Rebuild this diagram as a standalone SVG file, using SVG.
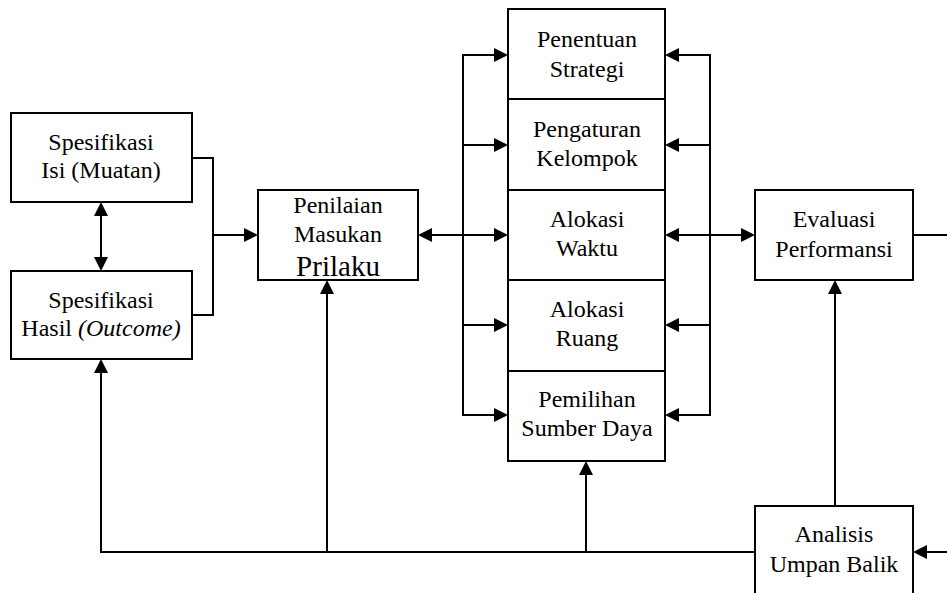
<svg xmlns="http://www.w3.org/2000/svg" width="947" height="593" viewBox="0 0 947 593">
  <style>
    .box { fill: #fff; stroke: #000; stroke-width: 2; }
    .ln { fill: none; stroke: #000; stroke-width: 2; }
  </style>
  <defs>
    <!-- arrowhead with its tip at the origin, pointing along +x -->
    <path id="ah" d="M0,0 L-14,-7 L-14,7 Z" fill="#000"/>
  </defs>
  <rect width="947" height="593" fill="#fff"/>

  <g id="connectors">
    <!-- bracket merging the two specification boxes -->
    <polyline class="ln" points="192,158 213,158 213,315 192,315"/>
    <line class="ln" x1="213" y1="235" x2="250" y2="235"/>
    <use href="#ah" transform="translate(258,235)"/>
    <line class="ln" x1="101" y1="210" x2="101" y2="263"/>
    <use href="#ah" transform="translate(101,202) rotate(-90)"/>
    <use href="#ah" transform="translate(101,271) rotate(90)"/>
    <!-- assessment to stack -->
    <line class="ln" x1="426" y1="235" x2="500" y2="235"/>
    <use href="#ah" transform="translate(418,235) rotate(180)"/>
    <use href="#ah" transform="translate(508,235)"/>
    <!-- left bus -->
    <polyline class="ln" points="500,55 463,55 463,415 500,415"/>
    <line class="ln" x1="463" y1="145" x2="500" y2="145"/>
    <line class="ln" x1="463" y1="325" x2="500" y2="325"/>
    <use href="#ah" transform="translate(508,55)"/>
    <use href="#ah" transform="translate(508,145)"/>
    <use href="#ah" transform="translate(508,325)"/>
    <use href="#ah" transform="translate(508,415)"/>
    <!-- right bus -->
    <polyline class="ln" points="673,55 710,55 710,415 673,415"/>
    <line class="ln" x1="710" y1="145" x2="673" y2="145"/>
    <line class="ln" x1="710" y1="325" x2="673" y2="325"/>
    <use href="#ah" transform="translate(665,55) rotate(180)"/>
    <use href="#ah" transform="translate(665,145) rotate(180)"/>
    <use href="#ah" transform="translate(665,325) rotate(180)"/>
    <use href="#ah" transform="translate(665,415) rotate(180)"/>
    <!-- stack to evaluation -->
    <line class="ln" x1="673" y1="235" x2="747" y2="235"/>
    <use href="#ah" transform="translate(665,235) rotate(180)"/>
    <use href="#ah" transform="translate(755,235)"/>
    <line class="ln" x1="913" y1="235" x2="947" y2="235"/>
    <!-- feedback paths -->
    <line class="ln" x1="835" y1="506" x2="835" y2="288"/>
    <use href="#ah" transform="translate(835,280) rotate(-90)"/>
    <line class="ln" x1="947" y1="552" x2="921" y2="552"/>
    <use href="#ah" transform="translate(913,552) rotate(180)"/>
    <polyline class="ln" points="755,552 101,552 101,367"/>
    <use href="#ah" transform="translate(101,359) rotate(-90)"/>
    <line class="ln" x1="327" y1="552" x2="327" y2="288"/>
    <use href="#ah" transform="translate(327,280) rotate(-90)"/>
    <line class="ln" x1="586" y1="552" x2="586" y2="469"/>
    <use href="#ah" transform="translate(586,461) rotate(-90)"/>
  </g>

  <g id="spesifikasi-isi">
    <rect class="box" x="11" y="113" width="181" height="89"/>
    <text font-family="Liberation Serif" font-size="24" text-anchor="middle" x="101" y="150">Spesifikasi</text>
    <text font-family="Liberation Serif" font-size="24" text-anchor="middle" x="101" y="178">Isi (Muatan)</text>
  </g>
  <g id="spesifikasi-hasil">
    <rect class="box" x="11" y="271" width="181" height="88"/>
    <text font-family="Liberation Serif" font-size="24" text-anchor="middle" x="101" y="308">Spesifikasi</text>
    <text font-family="Liberation Serif" font-size="24" text-anchor="middle" x="101" y="336">Hasil <tspan font-style="italic">(Outcome)</tspan></text>
  </g>
  <g id="penilaian">
    <rect class="box" x="258" y="190" width="160" height="90"/>
    <text font-family="Liberation Serif" font-size="24" text-anchor="middle" x="338" y="213">Penilaian</text>
    <text font-family="Liberation Serif" font-size="24" text-anchor="middle" x="338" y="242">Masukan</text>
    <text font-family="Liberation Serif" font-size="29" text-anchor="middle" x="338" y="276">Prilaku</text>
  </g>
  <g id="penentuan-strategi">
    <rect class="box" x="508" y="9" width="157" height="90"/>
    <text font-family="Liberation Serif" font-size="24" text-anchor="middle" x="587" y="47">Penentuan</text>
    <text font-family="Liberation Serif" font-size="24" text-anchor="middle" x="587" y="77">Strategi</text>
  </g>
  <g id="pengaturan-kelompok">
    <rect class="box" x="508" y="99" width="157" height="91"/>
    <text font-family="Liberation Serif" font-size="24" text-anchor="middle" x="587" y="137">Pengaturan</text>
    <text font-family="Liberation Serif" font-size="24" text-anchor="middle" x="587" y="166">Kelompok</text>
  </g>
  <g id="alokasi-waktu">
    <rect class="box" x="508" y="190" width="157" height="90"/>
    <text font-family="Liberation Serif" font-size="24" text-anchor="middle" x="587" y="227">Alokasi</text>
    <text font-family="Liberation Serif" font-size="24" text-anchor="middle" x="587" y="256">Waktu</text>
  </g>
  <g id="alokasi-ruang">
    <rect class="box" x="508" y="280" width="157" height="91"/>
    <text font-family="Liberation Serif" font-size="24" text-anchor="middle" x="587" y="317">Alokasi</text>
    <text font-family="Liberation Serif" font-size="24" text-anchor="middle" x="587" y="346">Ruang</text>
  </g>
  <g id="pemilihan-sumber-daya">
    <rect class="box" x="508" y="371" width="157" height="90"/>
    <text font-family="Liberation Serif" font-size="24" text-anchor="middle" x="587" y="407">Pemilihan</text>
    <text font-family="Liberation Serif" font-size="24" text-anchor="middle" x="587" y="436">Sumber Daya</text>
  </g>
  <g id="evaluasi">
    <rect class="box" x="755" y="190" width="158" height="90"/>
    <text font-family="Liberation Serif" font-size="24" text-anchor="middle" x="834" y="227">Evaluasi</text>
    <text font-family="Liberation Serif" font-size="24" text-anchor="middle" x="834" y="257">Performansi</text>
  </g>
  <g id="analisis">
    <rect class="box" x="755" y="506" width="158" height="100"/>
    <text font-family="Liberation Serif" font-size="24" text-anchor="middle" x="834" y="542">Analisis</text>
    <text font-family="Liberation Serif" font-size="24" text-anchor="middle" x="834" y="572">Umpan Balik</text>
  </g>
</svg>
